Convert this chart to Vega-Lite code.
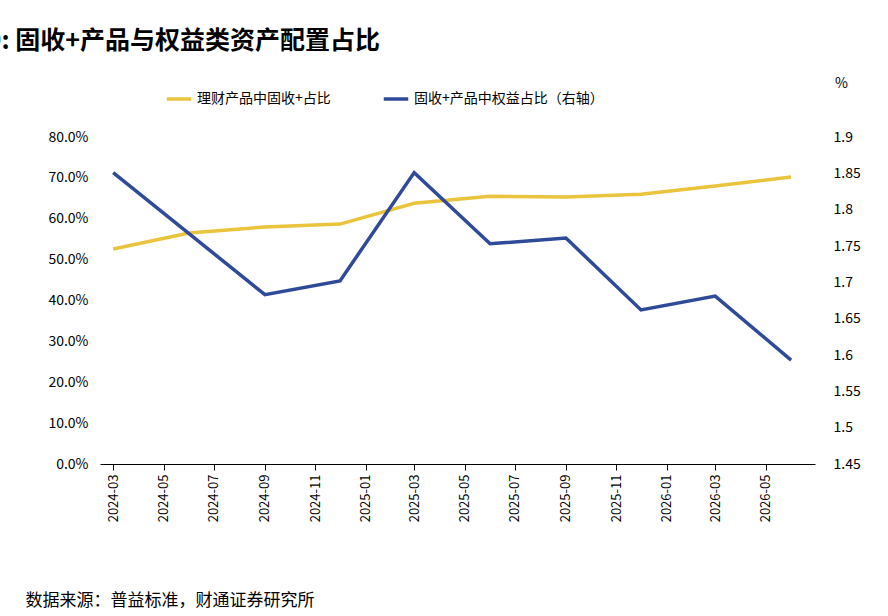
{
  "$schema": "https://vega.github.io/schema/vega-lite/v6.json",
  "width": 715,
  "height": 327,
  "autosize": "none",
  "padding": {"left": 100, "top": 137, "right": 73, "bottom": 152},
  "config": {
    "font": "Noto Sans CJK SC",
    "view": {"stroke": null},
    "axis": {"labelFont": "Noto Sans CJK SC", "labelFontSize": 14, "labelColor": "#000", "grid": false, "ticks": false, "domain": false}
  },
  "title": {"text": "图19: 固收+产品与权益类资产配置占比", "anchor": "start", "fontSize": 25, "fontWeight": "bold", "color": "#000", "offset": 22, "dx": -78},
  "data": {"values": [
    {"date": "2024-03-01", "fi": 52.6, "eq": 1.851},
    {"date": "2024-06-01", "fi": 56.5, "eq": null},
    {"date": "2024-09-01", "fi": 58.0, "eq": 1.683},
    {"date": "2024-12-01", "fi": 58.7, "eq": 1.702},
    {"date": "2025-03-01", "fi": 63.8, "eq": 1.851},
    {"date": "2025-06-01", "fi": 65.5, "eq": 1.753},
    {"date": "2025-09-01", "fi": 65.3, "eq": 1.761},
    {"date": "2025-12-01", "fi": 66.0, "eq": 1.662},
    {"date": "2026-03-01", "fi": 68.0, "eq": 1.681},
    {"date": "2026-06-01", "fi": 70.2, "eq": 1.593}
  ]},
  "encoding": {
    "x": {"field": "date", "type": "temporal",
      "scale": {"domain": ["2024-02-14", "2026-06-30"]},
      "axis": {"format": "%Y-%m", "tickCount": {"interval": "month", "step": 2}, "labelAngle": -90, "labelFontSize": 13,
        "domain": true, "domainColor": "#000", "ticks": true, "tickColor": "#000", "tickSize": 6, "labelPadding": 4,
        "title": "数据来源：普益标准，财通证券研究所", "titleFontSize": 17, "titleFontWeight": "normal", "titleAnchor": "start", "titleAlign": "left", "titleX": -75, "titleY": 128, "titleColor": "#000"}}
  },
  "layer": [
    {
      "mark": {"type": "line", "strokeWidth": 3.5, "color": "#EAC43D"},
      "encoding": {
        "y": {"field": "fi", "type": "quantitative", "scale": {"domain": [0, 80]},
          "axis": {"orient": "left", "values": [0, 10, 20, 30, 40, 50, 60, 70, 80], "labelExpr": "format(datum.value, '.1f') + '%'", "title": null, "labelPadding": 12}},
        "color": {"datum": "理财产品中固收+占比", "type": "nominal",
          "scale": {"domain": ["理财产品中固收+占比", "固收+产品中权益占比（右轴）"], "range": ["#EAC43D", "#2F4A98"]},
          "legend": {"orient": "none", "legendX": 65, "legendY": -52, "direction": "horizontal", "title": null, "symbolType": "stroke", "symbolStrokeWidth": 3.5, "symbolSize": 600, "labelFontSize": 14, "labelLimit": 300, "columnPadding": 45, "labelFont": "Noto Sans CJK SC"}}
      }
    },
    {
      "transform": [{"filter": "datum.eq != null"}],
      "mark": {"type": "line", "strokeWidth": 3.5, "color": "#2F4A98"},
      "encoding": {
        "y": {"field": "eq", "type": "quantitative", "scale": {"domain": [1.45, 1.9], "zero": false},
          "axis": {"orient": "right", "values": [1.45, 1.5, 1.55, 1.6, 1.65, 1.7, 1.75, 1.8, 1.85, 1.9], "format": "~g", "labelPadding": 18,
            "title": "%", "titleAngle": 0, "titleY": -47, "titleX": 26, "titleFontSize": 14, "titleFontWeight": "normal", "titleColor": "#000"}},
        "color": {"datum": "固收+产品中权益占比（右轴）", "type": "nominal"}
      }
    }
  ],
  "resolve": {"scale": {"y": "independent"}}
}
